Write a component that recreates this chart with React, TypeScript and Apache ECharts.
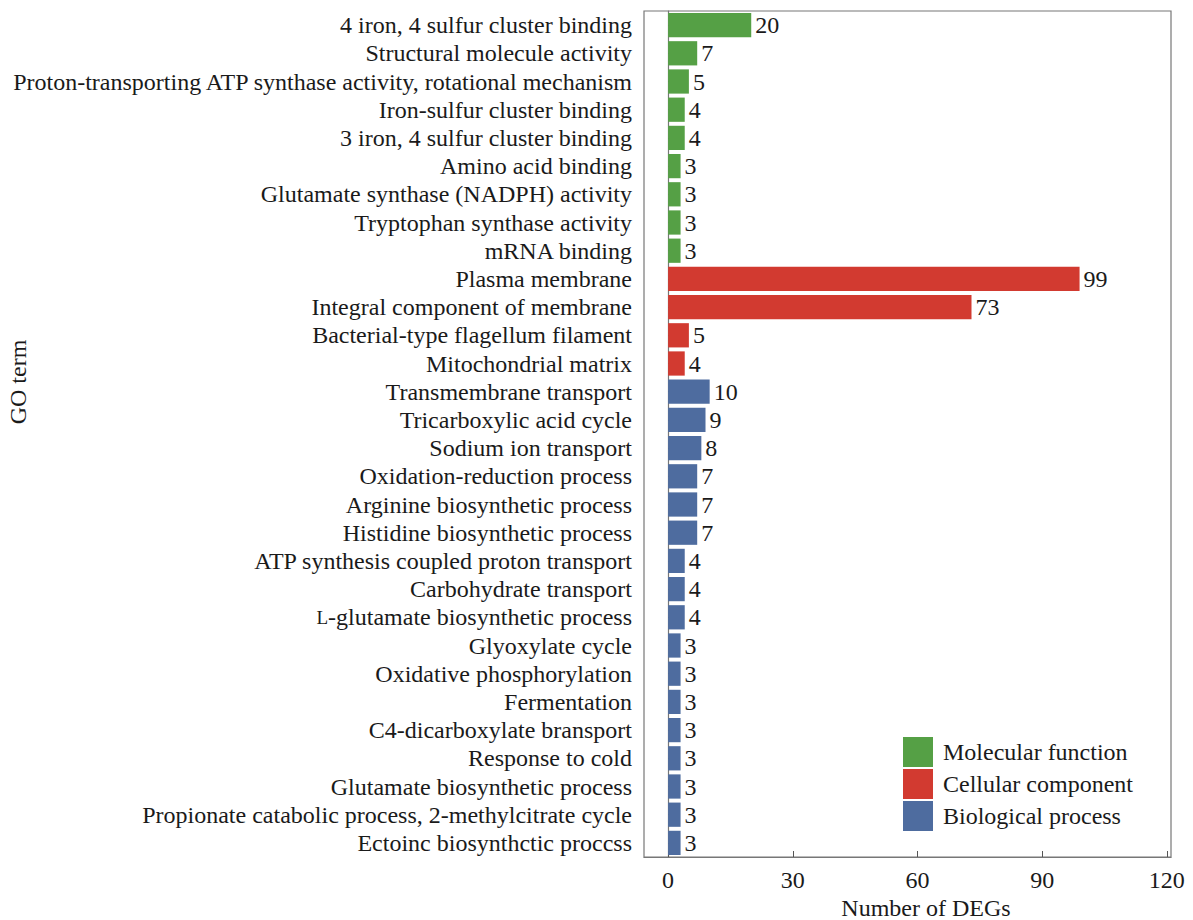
import React, { useEffect, useRef } from "react";
import * as echarts from "echarts";

// GO terms, top to bottom
const terms: string[] = [
  "4 iron, 4 sulfur cluster binding",
  "Structural molecule activity",
  "Proton-transporting ATP synthase activity, rotational mechanism",
  "Iron-sulfur cluster binding",
  "3 iron, 4 sulfur cluster binding",
  "Amino acid binding",
  "Glutamate synthase (NADPH) activity",
  "Tryptophan synthase activity",
  "mRNA binding",
  "Plasma membrane",
  "Integral component of membrane",
  "Bacterial-type flagellum filament",
  "Mitochondrial matrix",
  "Transmembrane transport",
  "Tricarboxylic acid cycle",
  "Sodium ion transport",
  "Oxidation-reduction process",
  "Arginine biosynthetic process",
  "Histidine biosynthetic process",
  "ATP synthesis coupled proton transport",
  "Carbohydrate transport",
  "L-glutamate biosynthetic process",
  "Glyoxylate cycle",
  "Oxidative phosphorylation",
  "Fermentation",
  "C4-dicarboxylate bransport",
  "Response to cold",
  "Glutamate biosynthetic process",
  "Propionate catabolic process, 2-methylcitrate cycle",
  "Ectoinc biosynthctic proccss",
];

// DEG counts per category, aligned with the term list
const molecularFunction: number[] = [20, 7, 5, 4, 4, 3, 3, 3, 3];
const cellularComponent: number[] = [99, 73, 5, 4];
const biologicalProcess: number[] = [10, 9, 8, 7, 7, 7, 4, 4, 4, 3, 3, 3, 3, 3, 3, 3, 3];

const groupNames: string[] = ["Molecular function", "Cellular component", "Biological process"];
const groupColors: string[] = ["#55a045", "#d23a30", "#4e6c9f"];
const xTicks: number[] = [0, 30, 60, 90, 120];

const FONT = "'Liberation Serif', 'Times New Roman', serif";
const TEXT = "#1a1a1a";

function padSeries(values: number[], offset: number, total: number): (number | null)[] {
  const out: (number | null)[] = new Array(total).fill(null);
  values.forEach((v, i) => {
    out[offset + i] = v;
  });
  return out;
}

export default function App() {
  const ref = useRef<HTMLDivElement>(null);

  useEffect(() => {
    if (!ref.current) return;
    const chart = echarts.init(ref.current, null, { renderer: "svg" });
    const n = terms.length;
    const groups = [molecularFunction, cellularComponent, biologicalProcess];
    let offset = 0;
    const series = groups.map((vals, gi) => {
      const s = {
        name: groupNames[gi],
        type: "bar",
        stack: "all",
        barCategoryGap: "14%",
        data: padSeries(vals, offset, n),
        itemStyle: { color: groupColors[gi] },
        label: {
          show: true,
          position: "right",
          distance: 4,
          fontFamily: FONT,
          fontSize: 24,
          color: TEXT,
        },
      };
      offset += vals.length;
      return s;
    });

    chart.setOption({
      animation: false,
      backgroundColor: "#ffffff",
      textStyle: { fontFamily: FONT },
      grid: {
        left: 644,
        right: 22,
        top: 11,
        bottom: 63,
        show: true,
        borderColor: "#777",
        borderWidth: 1.2,
        containLabel: false,
      },
      legend: {
        orient: "vertical",
        left: 903,
        top: 737,
        padding: 0,
        itemWidth: 30,
        itemHeight: 30,
        itemGap: 2,
        icon: "rect",
        textStyle: { fontFamily: FONT, fontSize: 24, color: TEXT, padding: [0, 0, 0, 5] },
        data: groupNames,
      },
      xAxis: {
        type: "value",
        min: -5.8,
        max: 121,
        axisLine: { show: true, lineStyle: { color: "#777", width: 1.2 } },
        axisTick: { show: true, inside: true, length: 6, customValues: xTicks, lineStyle: { color: "#555" } },
        axisLabel: {
          customValues: xTicks,
          fontFamily: FONT,
          fontSize: 24,
          color: TEXT,
          margin: 11,
        },
        splitLine: { show: false },
      },
      yAxis: {
        type: "category",
        inverse: true,
        data: terms,
        axisLine: { show: true, lineStyle: { color: "#777", width: 1.2 } },
        axisTick: { show: true, inside: true, length: 5, alignWithLabel: true, lineStyle: { color: "#555" } },
        axisLabel: {
          interval: 0,
          hideOverlap: false,
          fontFamily: FONT,
          fontSize: 24,
          color: TEXT,
          margin: 12,
          formatter: (v: string) =>
            v.startsWith("L-") ? "{sc|L}{t|" + v.slice(1) + "}" : "{t|" + v + "}",
          rich: {
            t: { fontFamily: FONT, fontSize: 24, color: TEXT },
            sc: { fontFamily: FONT, fontSize: 19, color: TEXT },
          },
        },
      },
      graphic: [
        {
          type: "text",
          x: 18,
          y: 382,
          rotation: Math.PI / 2,
          style: {
            text: "GO term",
            fontFamily: FONT,
            fontSize: 24,
            fill: TEXT,
            align: "center",
            verticalAlign: "middle",
          },
        },
        {
          type: "text",
          x: 926,
          y: 908,
          style: {
            text: "Number of DEGs",
            fontFamily: FONT,
            fontSize: 24,
            fill: TEXT,
            align: "center",
            verticalAlign: "middle",
          },
        },
      ],
      series,
    });

    return () => chart.dispose();
  }, []);

  return <div ref={ref} style={{ width: 1193, height: 920, position: "absolute", left: 0, top: 0 }} />;
}
